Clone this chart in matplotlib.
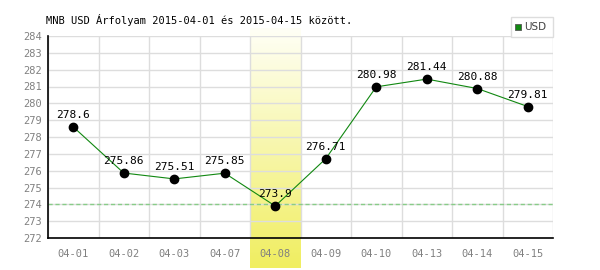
import numpy as np
import matplotlib.pyplot as plt
from matplotlib.colors import LinearSegmentedColormap

dates = ["04-01", "04-02", "04-03", "04-07", "04-08", "04-09", "04-10", "04-13", "04-14", "04-15"]
usd = [278.6, 275.86, 275.51, 275.85, 273.9, 276.71, 280.98, 281.44, 280.88, 279.81]
labels = ["278.6", "275.86", "275.51", "275.85", "273.9", "276.71", "280.98", "281.44", "280.88", "279.81"]
min_idx = 4
ref_level = 274

fig = plt.figure(figsize=(6, 2.7), dpi=100)
ax = fig.add_axes([48 / 600, 1 - 238 / 270, 505 / 600, 202 / 270])

x = np.arange(len(dates))

# highlighted day: yellow gradient reaching below the axis
grad = np.linspace(0, 1, 256).reshape(-1, 1)
cmap = LinearSegmentedColormap.from_list("hl", ["#fffff6", "#f0ee60"])
ax.imshow(grad, aspect="auto", cmap=cmap, extent=(min_idx - 0.5, min_idx + 0.5, 270.2, 284.45),
          origin="upper", clip_on=False, zorder=0)
ax.set_xlim(-0.5, len(dates) - 0.5)
ax.set_ylim(272, 284)

ax.set_yticks(range(272, 285))
ax.set_xticks(x)
ax.set_xticklabels(dates)
ax.set_xticks(np.arange(-0.5, len(dates)), minor=True)
ax.grid(True, axis="y", color="#dddddd", lw=1, zorder=1)
ax.grid(True, axis="x", which="minor", color="#dddddd", lw=1, zorder=1)
ax.tick_params(which="both", length=0)
ax.tick_params(axis="y", pad=4)
ax.tick_params(axis="x", pad=8)
for lbl in ax.get_xticklabels() + ax.get_yticklabels():
    lbl.set_fontfamily("DejaVu Sans Mono")
    lbl.set_fontsize(7.5)
    lbl.set_color("#808080")

for s in ["top", "right"]:
    ax.spines[s].set_visible(False)
for s in ["left", "bottom"]:
    ax.spines[s].set_color("black")
    ax.spines[s].set_linewidth(1.2)

ax.axhline(ref_level, color="#88cc88", lw=1, ls=(0, (3, 2)), zorder=2)
ax.plot(x, usd, color="#118811", lw=0.8, zorder=3)
ax.plot(x, usd, "o", color="black", ms=6, zorder=4)

for xi, yi, t in zip(x, usd, labels):
    ax.annotate(t, (xi, yi), xytext=(0, 5), textcoords="offset points", ha="center", va="bottom",
                fontsize=8, family="DejaVu Sans Mono", color="black", zorder=5)

fig.text(46 / 600, 1 - 20 / 270, "MNB USD Árfolyam 2015-04-01 és 2015-04-15 között.",
         fontsize=7.5, family="DejaVu Sans Mono", va="center", ha="left")

# legend box
lx0, ly0, lw_, lh = 511 / 600, 1 - 37 / 270, 42 / 600, 20 / 270
fig.patches.append(plt.Rectangle((lx0, ly0), lw_, lh, transform=fig.transFigure,
                                 facecolor="white", edgecolor="#dddddd", lw=1))
fig.patches.append(plt.Rectangle((515 / 600, 1 - 30 / 270), 6 / 600, 6 / 270, transform=fig.transFigure,
                                 facecolor="#118811", edgecolor="#555555", lw=0.6))
fig.text(524 / 600, 1 - 27 / 270, "USD", fontsize=7.5, color="#444444", va="center", ha="left")

fig.savefig("out.png", dpi=100)
